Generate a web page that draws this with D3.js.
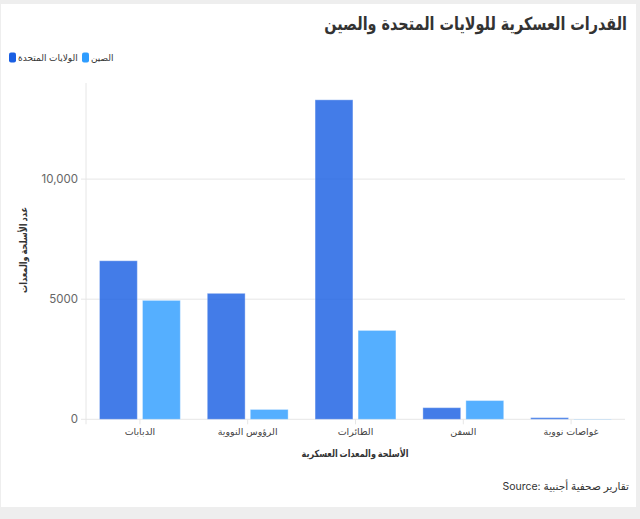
<!DOCTYPE html>
<html><head><meta charset="utf-8">
<script src="https://cdn.jsdelivr.net/npm/d3@7"></script>
<style>
html,body{margin:0;padding:0;background:#eeeeee;}
svg{display:block;}
</style></head>
<body>
<svg id="chart" width="640" height="519"></svg>
<script>
const categories = ["الدبابات", "الرؤوس النووية", "الطائرات", "السفن", "غواصات نووية"];
const seriesNames = ["الولايات المتحدة", "الصين"];
const usValues = [6600, 5244, 13300, 484, 68];
const chinaValues = [4950, 410, 3700, 780, 12];
const yTickValues = [0, 5000, 10000];
const yTickLabels = ["0", "5000", "10,000"];
const titleText = "القدرات العسكرية للولايات المتحدة والصين";
const xAxisTitle = "الأسلحة والمعدات العسكرية";
const yAxisTitle = "عدد الأسلحة والمعدات";
const sourceText = "Source: تقارير صحفية أجنبية";

const seriesColors = ["#1a5fe3", "#2f9dff"];
const svg = d3.select("#chart");
const font = "Inter, 'DejaVu Sans', sans-serif";

// card
svg.append("rect").attr("x",1).attr("y",4).attr("width",635).attr("height",503).attr("fill","#fff");

const margin = {left:86, right:625, top:83, bottom:419.3};
const x0 = d3.scaleBand().domain(categories).range([margin.left, margin.right]).paddingInner(0.25).paddingOuter(0.125);
const x1 = d3.scaleBand().domain(seriesNames).range([0, x0.bandwidth()]).paddingInner(0.12);
const y = d3.scaleLinear().domain([0,14000]).range([margin.bottom, margin.top]);

// grid
const g = svg.append("g");
g.selectAll("line.grid").data(yTickValues).join("line")
  .attr("x1", 81).attr("x2", margin.right)
  .attr("y1", d=>y(d)).attr("y2", d=>y(d))
  .attr("stroke","#e6e6e6").attr("stroke-width",1);
g.append("line").attr("x1",margin.left).attr("x2",margin.left).attr("y1",margin.top).attr("y2",margin.bottom+5)
  .attr("stroke","#e6e6e6");

// y axis labels
g.selectAll("text.ytick").data(yTickValues).join("text")
  .attr("x",78).attr("y",d=>y(d)).attr("dy","0.35em").attr("text-anchor","end")
  .attr("font-family",font).attr("font-size",11.5).attr("fill","#666")
  .text((d,i)=>yTickLabels[i]);

// x ticks
g.selectAll("line.xtick").data(categories).join("line")
  .attr("x1", d=>x0(d)+x0.bandwidth()/2).attr("x2", d=>x0(d)+x0.bandwidth()/2)
  .attr("y1", margin.bottom).attr("y2", margin.bottom+5).attr("stroke","#e6e6e6");

g.selectAll("text.xlab").data(categories).join("text")
  .attr("x", d=>x0(d)+x0.bandwidth()/2).attr("y", 435)
  .attr("text-anchor","middle").attr("font-family",font).attr("font-size",9.5).attr("fill","#444")
  .text(d=>d);

// bars
const rows = categories.map((c,i)=>({cat:c, vals:[usValues[i], chinaValues[i]]}));
const groups = svg.append("g").selectAll("g").data(rows).join("g")
  .attr("transform", d=>`translate(${x0(d.cat)},0)`);
groups.selectAll("rect").data(d=>d.vals.map((v,j)=>({name:seriesNames[j], v, j}))).join("rect")
  .attr("x", d=>x1(d.name)).attr("width", x1.bandwidth())
  .attr("y", d=>y(d.v)).attr("height", d=>y(0)-y(d.v))
  .attr("fill", d=>seriesColors[d.j]).attr("fill-opacity",0.82)
  .attr("stroke","#ffffff").attr("stroke-opacity",0.35).attr("stroke-width",1);

// title
svg.append("text").attr("transform","translate(627,30) scale(0.8,1)").attr("text-anchor","end")
  .attr("font-family","'DejaVu Sans', sans-serif").attr("font-weight","bold").attr("font-size",18)
  .attr("fill","#333").text(titleText);

// legend
const legend = [{name:seriesNames[0], x:9, tx:18}, {name:seriesNames[1], x:82, tx:91}];
const lg = svg.append("g");
lg.selectAll("rect").data(legend).join("rect")
  .attr("x",d=>d.x).attr("y",52.5).attr("width",7).attr("height",10).attr("rx",2)
  .attr("fill",(d,i)=>seriesColors[i]);
lg.selectAll("text").data(legend).join("text")
  .attr("x",d=>d.tx).attr("y",57.5).attr("dy","0.35em")
  .attr("font-family",font).attr("font-size",9).attr("fill","#333")
  .text(d=>d.name);

// axis titles
svg.append("text").attr("x",355).attr("y",457).attr("text-anchor","middle")
  .attr("font-family",font).attr("font-weight","bold").attr("font-size",10).attr("fill","#333")
  .attr("textLength",107).attr("lengthAdjust","spacingAndGlyphs")
  .text(xAxisTitle);
svg.append("text").attr("transform","translate(23,250) rotate(-90)").attr("text-anchor","middle").attr("dy","0.35em")
  .attr("font-family",font).attr("font-weight","bold").attr("font-size",10).attr("fill","#333")
  .attr("textLength",86).attr("lengthAdjust","spacingAndGlyphs")
  .text(yAxisTitle);

// source
svg.append("text").attr("x",629).attr("y",490).attr("text-anchor","end")
  .attr("font-family",font).attr("font-size",10.5).attr("fill","#333")
  .attr("direction","ltr")
  .text(sourceText);
</script>
</body></html>
